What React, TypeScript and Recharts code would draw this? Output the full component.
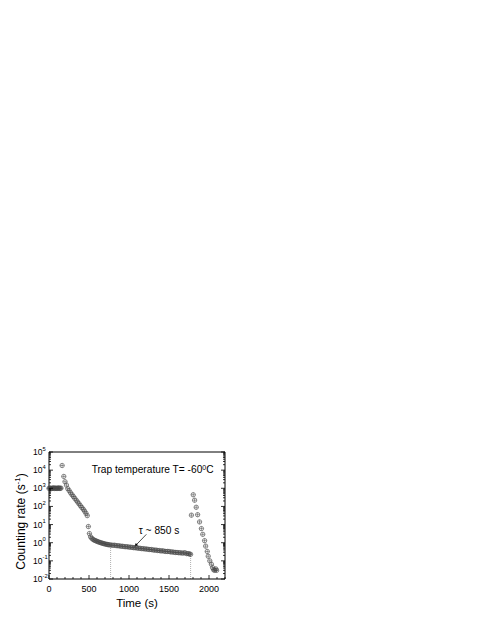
import React from 'react';
import {
  ScatterChart,
  Scatter,
  XAxis,
  YAxis,
  ReferenceLine,
  ReferenceDot
} from 'recharts';

const FONT = '"Liberation Sans", Arial, sans-serif';

// loading phase, plateau near 10^3
const loadTime = [0, 10, 20, 30, 40, 50, 60, 70, 80, 90, 100, 110, 120, 130, 140, 150];
const loadRate = [980, 1040, 1000, 960, 1020, 1000, 1060, 980, 1000, 1030, 970, 1010, 1050, 990, 1000, 1020];

// peak and fast decay
const fillTime = [164, 185, 200, 218, 235, 252, 270, 288, 305, 322, 340, 358, 375, 392, 410, 428, 445, 462, 478, 492];
const fillRate = [18000, 4500, 2300, 1500, 950, 740, 560, 440, 350, 280, 220, 175, 140, 110, 88, 70, 55, 42, 31, 7.8];

// trapped counts, slow decay
const trapTime = [505, 520, 535, 550, 565, 580, 595, 610, 625, 640, 655, 670, 685, 700, 715, 730, 745, 760,
  780, 800, 820, 840, 860, 880, 900, 920, 940, 960, 980, 1000, 1020, 1040, 1060, 1080, 1100, 1120, 1140, 1160,
  1180, 1200, 1220, 1240, 1260, 1280, 1300, 1320, 1340, 1360, 1380, 1400, 1420, 1440, 1460, 1480, 1500, 1520,
  1540, 1560, 1580, 1600, 1620, 1640, 1660, 1680, 1700, 1720, 1740, 1755, 1770];
const trapRate = [3.2, 2.1, 1.75, 1.52, 1.38, 1.3, 1.22, 1.14, 1.08, 1.02, 0.97, 0.93, 0.89, 0.85, 0.82, 0.8, 0.77, 0.76,
  0.74, 0.72, 0.73, 0.69, 0.68, 0.67, 0.64, 0.64, 0.61, 0.6, 0.6, 0.57, 0.57, 0.55, 0.53, 0.53, 0.51, 0.5, 0.49, 0.47,
  0.47, 0.45, 0.45, 0.43, 0.42, 0.42, 0.4, 0.39, 0.39, 0.37, 0.37, 0.35, 0.36, 0.34, 0.33, 0.33, 0.33, 0.31,
  0.31, 0.3, 0.29, 0.29, 0.28, 0.28, 0.27, 0.27, 0.28, 0.25, 0.25, 0.24, 0.23];

// release after the trap is opened
const releaseTime = [1780, 1803, 1820, 1840, 1858, 1882, 1905, 1922, 1945, 1958, 1978, 1990, 2010, 2030, 2045, 2058, 2072, 2085, 2095];
const releaseRate = [33, 440, 220, 90, 35, 14, 6, 2.9, 1.3, 0.65, 0.33, 0.18, 0.1, 0.065, 0.042, 0.032, 0.03, 0.036, 0.03];

const xTicks = [0, 100, 200, 300, 400, 500, 600, 700, 800, 900, 1000, 1100, 1200, 1300, 1400, 1500, 1600, 1700, 1800, 1900, 2000, 2100, 2200];
const xMajor = [0, 500, 1000, 1500, 2000];
const decades = [0.01, 0.1, 1, 10, 100, 1000, 10000, 100000];
const minorSteps = [2, 3, 4, 5, 6, 7, 8, 9];
const yTicks = decades.flatMap((d, i) => (i < decades.length - 1 ? [d, ...minorSteps.map((m) => m * d)] : [d]));

// dotted markers at the start / end of the fit window
const fitWindow = [
  { x: 770, y: 0.75 },
  { x: 1770, y: 0.22 }
];

const segments: [number[], number[]][] = [
  [loadTime, loadRate],
  [fillTime, fillRate],
  [trapTime, trapRate],
  [releaseTime, releaseRate]
];
const points = segments.flatMap(([t, r]) => t.map((x, i) => ({ x, y: r[i] })));

const isDecade = (v: number) => {
  const e = Math.log10(v);
  return Math.abs(e - Math.round(e)) < 1e-6;
};

const Marker = (props: any) => {
  const { cx, cy } = props;
  if (cx == null || cy == null) return null;
  const r = 2.2;
  return (
    <g>
      <circle cx={cx} cy={cy} r={r} fill="none" stroke="#444" strokeWidth={0.6} />
      <line x1={cx - r} x2={cx + r} y1={cy} y2={cy} stroke="#444" strokeWidth={0.5} />
      <line x1={cx} x2={cx} y1={cy - r} y2={cy + r} stroke="#444" strokeWidth={0.5} />
    </g>
  );
};

const BottomTick = (props: any) => {
  const { x, y, payload } = props;
  const v = payload.value;
  const major = xMajor.includes(v);
  return (
    <g>
      <line x1={x} x2={x} y1={y} y2={y - (major ? 4 : 2)} stroke="#000" strokeWidth={0.8} />
      {major && (
        <text x={x} y={y + 12.5} textAnchor="middle" fontSize={9} fontFamily={FONT} fill="#000">
          {v}
        </text>
      )}
    </g>
  );
};

const TopTick = (props: any) => {
  const { x, y, payload } = props;
  const major = xMajor.includes(payload.value);
  return <line x1={x} x2={x} y1={y} y2={y + (major ? 4 : 2)} stroke="#000" strokeWidth={0.8} />;
};

const LeftTick = (props: any) => {
  const { x, y, payload } = props;
  const v = payload.value;
  const major = isDecade(v);
  const exp = Math.round(Math.log10(v));
  return (
    <g>
      <line x1={x} x2={x + (major ? 4 : 2)} y1={y} y2={y} stroke="#000" strokeWidth={0.8} />
      {major && (
        <g fontFamily={FONT} fill="#000">
          <text x={x - 6.5} y={y + 3} textAnchor="end" fontSize={8.5}>
            10
          </text>
          <text x={x - 6.5} y={y - 1.5} textAnchor="start" fontSize={5.8}>
            {exp}
          </text>
        </g>
      )}
    </g>
  );
};

const RightTick = (props: any) => {
  const { x, y, payload } = props;
  const major = isDecade(payload.value);
  return <line x1={x} x2={x - (major ? 4 : 2)} y1={y} y2={y} stroke="#000" strokeWidth={0.8} />;
};

const YTitle = (props: any) => {
  const { viewBox } = props;
  const cx = viewBox.x + 2;
  const cy = viewBox.y + viewBox.height / 2 + 6;
  return (
    <text
      x={cx}
      y={cy}
      transform={`rotate(-90 ${cx} ${cy})`}
      textAnchor="middle"
      dominantBaseline="central"
      fontSize={12}
      fontFamily={FONT}
      fill="#000"
    >
      Counting rate (s
      <tspan dy={-4.5} fontSize={8}>
        -1
      </tspan>
      <tspan dy={4.5}>)</tspan>
    </text>
  );
};

const XTitle = (props: any) => {
  const { viewBox } = props;
  return (
    <text
      x={viewBox.x + viewBox.width / 2}
      y={viewBox.y + 28}
      textAnchor="middle"
      fontSize={11.5}
      fontFamily={FONT}
      fill="#000"
    >
      Time (s)
    </text>
  );
};

const TitleText = (props: any) => (
  <text x={props.cx} y={props.cy} fontSize={10.2} fontFamily={FONT} fill="#000">
    Trap temperature T= -60
    <tspan dy={-3.5} fontSize={7}>
      0
    </tspan>
    <tspan dy={3.5}>C</tspan>
  </text>
);

const TauText = (props: any) => (
  <text x={props.cx} y={props.cy} fontSize={10.2} fontFamily={FONT} fill="#000">
    τ ~ 850 s
  </text>
);

const Arrow = (props: any) => {
  const { x1, y1, x2, y2 } = props;
  const ang = Math.atan2(y2 - y1, x2 - x1);
  const len = 4;
  const w = 1.6;
  const bx = x2 - len * Math.cos(ang);
  const by = y2 - len * Math.sin(ang);
  const px = -Math.sin(ang) * w;
  const py = Math.cos(ang) * w;
  return (
    <g>
      <line x1={x1} y1={y1} x2={bx} y2={by} stroke="#000" strokeWidth={0.7} />
      <polygon points={`${x2},${y2} ${bx + px},${by + py} ${bx - px},${by - py}`} fill="#000" />
    </g>
  );
};

const App = () => {
  return (
    <div style={{ position: 'absolute', left: 0, top: 0 }}>
      <ScatterChart width={485} height={627} margin={{ top: 447, right: 255, bottom: 28, left: 19 }}>
        <XAxis
          xAxisId={0}
          type="number"
          dataKey="x"
          domain={[0, 2200]}
          ticks={xTicks}
          interval={0}
          tickSize={0}
          tickMargin={0}
          tickLine={false}
          tick={<BottomTick />}
          axisLine={{ stroke: '#000', strokeWidth: 1 }}
          height={20}
          label={<XTitle />}
        />
        <XAxis
          xAxisId="top"
          orientation="top"
          type="number"
          domain={[0, 2200]}
          ticks={xTicks}
          interval={0}
          tickSize={0}
          tickMargin={0}
          tickLine={false}
          tick={<TopTick />}
          axisLine={{ stroke: '#000', strokeWidth: 1 }}
          height={5}
        />
        <YAxis
          yAxisId={0}
          type="number"
          dataKey="y"
          scale="log"
          domain={[0.01, 100000]}
          allowDataOverflow
          ticks={yTicks}
          interval={0}
          tickSize={0}
          tickMargin={0}
          tickLine={false}
          tick={<LeftTick />}
          axisLine={{ stroke: '#000', strokeWidth: 1 }}
          width={30}
          label={<YTitle />}
        />
        <YAxis
          yAxisId="right"
          orientation="right"
          type="number"
          scale="log"
          domain={[0.01, 100000]}
          allowDataOverflow
          ticks={yTicks}
          interval={0}
          tickSize={0}
          tickMargin={0}
          tickLine={false}
          tick={<RightTick />}
          axisLine={{ stroke: '#000', strokeWidth: 1 }}
          width={5}
        />
        {fitWindow.map((p) => (
          <ReferenceLine
            key={p.x}
            segment={[
              { x: p.x, y: 0.01 },
              { x: p.x, y: p.y }
            ]}
            stroke="#9a9a9a"
            strokeWidth={0.8}
            strokeDasharray="1 1"
          />
        ))}
        <Scatter data={points} shape={<Marker />} isAnimationActive={false} />
        <ReferenceLine
          segment={[
            { x: 1217, y: 2.9 },
            { x: 1065, y: 0.58 }
          ]}
          shape={<Arrow />}
        />
        <ReferenceDot x={533} y={6800} r={0} shape={<TitleText />} />
        <ReferenceDot x={1122} y={2.9} r={0} shape={<TauText />} />
      </ScatterChart>
    </div>
  );
};

export default App;
